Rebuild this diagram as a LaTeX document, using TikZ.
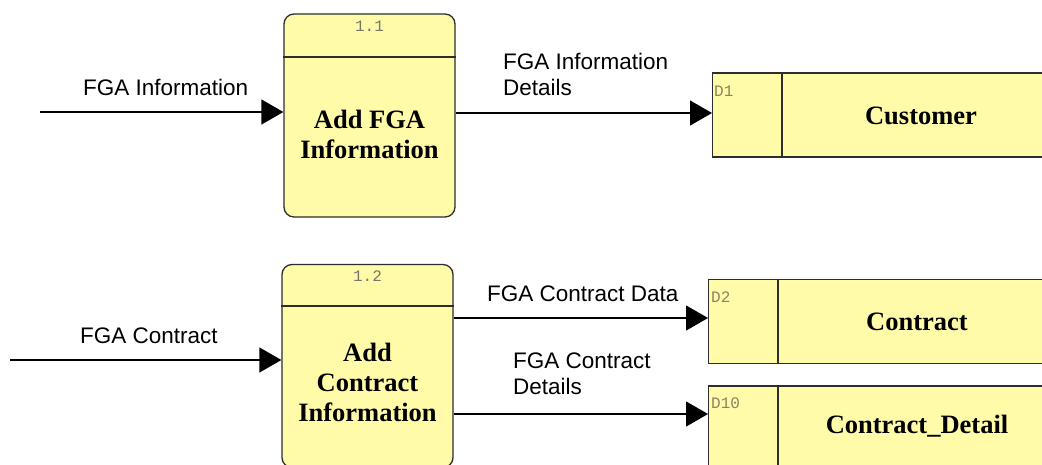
\documentclass[tikz,border=0pt]{standalone}
\usepackage{fontspec}
\setmainfont{Liberation Serif}
\newfontfamily\flowfont{Liberation Sans}
\newfontfamily\codefont{Liberation Mono}
\usetikzlibrary{arrows.meta}
\definecolor{boxfill}{RGB}{255,251,168}
\definecolor{boxline}{RGB}{45,45,45}
\definecolor{idgray}{RGB}{120,118,105}
\definecolor{storeid}{RGB}{145,128,100}
\tikzset{
  procbox/.style={draw=boxline, fill=boxfill, line width=1.3pt, rounded corners=10pt,
    minimum width=171pt, minimum height=203pt, inner sep=0pt},
  storebox/.style={draw=boxline, fill=boxfill, line width=1.3pt,
    minimum width=350pt, minimum height=84pt, inner sep=0pt, anchor=west},
  divider/.style={draw=boxline, line width=1.3pt},
  procid/.style={font=\codefont\fontsize{16}{18}\selectfont, text=idgray, inner sep=0pt},
  storeid/.style={font=\codefont\fontsize{16}{18}\selectfont, text=storeid, inner sep=0pt, anchor=north west},
  titletext/.style={font=\bfseries\fontsize{26.5}{30}\selectfont, align=center, inner sep=0pt},
  flowlabel/.style={font=\flowfont\fontsize{22.5}{26}\selectfont, align=left, inner sep=0pt},
  flow/.style={line width=1.3pt, -{Triangle[length=22pt,width=25pt]}}
}
\begin{document}
\begin{tikzpicture}[x=1pt,y=-1pt]
\useasboundingbox (0,0) rectangle (1042,464);
\clip (0,0) rectangle (1042,464);

% process 1.1
\node[procbox] (p1) at (369.5,115.5) {};
\draw[divider] (p1.west |- 0,57) -- (p1.east |- 0,57);
\node[procid] (p1id) at (369.5,26.5) {1.1};
\node[titletext] (p1title) at (369.5,134) {Add FGA\\Information};

% process 1.2
\node[procbox] (p2) at (367.5,366) {};
\draw[divider] (p2.west |- 0,306) -- (p2.east |- 0,306);
\node[procid] (p2id) at (367.5,276) {1.2};
\node[titletext] (p2title) at (367.5,382) {Add\\Contract\\Information};

% data stores
\node[storebox] (d1) at (712,115) {};
\draw[divider] ([xshift=70pt]d1.north west) -- ([xshift=70pt]d1.south west);
\node[storeid] (d1id) at (714,86) {D1};
\node[titletext] (d1title) at (921,116) {Customer};

\node[storebox] (d2) at (708,321.5) {};
\draw[divider] ([xshift=70pt]d2.north west) -- ([xshift=70pt]d2.south west);
\node[storeid] (d2id) at (711,292) {D2};
\node[titletext] (d2title) at (917,322) {Contract};

\node[storebox] (d3) at (708,428) {};
\draw[divider] ([xshift=70pt]d3.north west) -- ([xshift=70pt]d3.south west);
\node[storeid] (d3id) at (711,398) {D10};
\node[titletext] (d3title) at (917,426) {Contract\_Detail};

% data flows
\coordinate (in1) at (40,112);
\coordinate (in2) at (10,360);
\draw[flow] (in1) -- (p1.west |- in1);
\draw[flow] (in2) -- (p2.west |- in2);
\draw[flow] (p1.east |- 0,113) -- (d1.west |- 0,113);
\draw[flow] (p2.east |- 0,318) -- (d2.west |- 0,318);
\draw[flow] (p2.east |- 0,414) -- (d3.west |- 0,414);

% flow labels
\node[flowlabel, anchor=base west] (l1) at (83,95) {FGA Information};
\node[flowlabel, anchor=west] (l2) at (503,74) {FGA Information\\Details};
\node[flowlabel, anchor=base west] (l3) at (80,343) {FGA Contract};
\node[flowlabel, anchor=base west] (l4) at (487,301) {FGA Contract Data};
\node[flowlabel, anchor=west] (l5) at (513,373.5) {FGA Contract\\Details};
\end{tikzpicture}
\end{document}
